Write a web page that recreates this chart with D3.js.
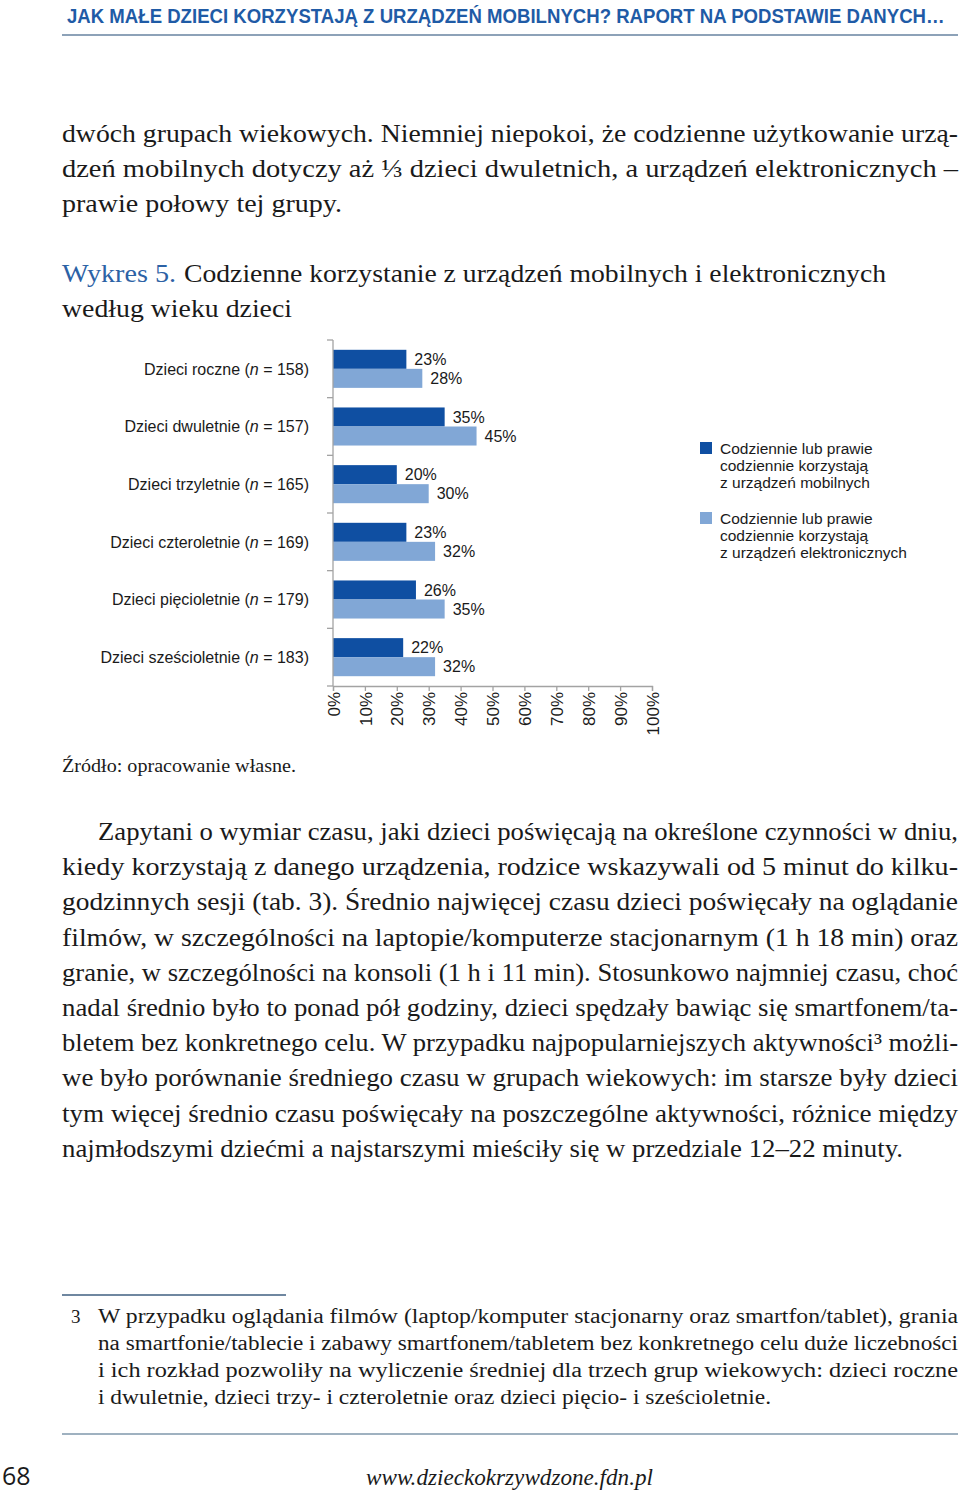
<!DOCTYPE html>
<html>
<head>
<meta charset="utf-8">
<script src="https://cdn.jsdelivr.net/npm/d3@7"></script>
<style>
  html, body { margin: 0; padding: 0; background: #fff; }
  svg { display: block; }
</style>
</head>
<body>
<div id="page"></div>
<script>
// ---------- DATA ----------
const categories = ["Dzieci roczne", "Dzieci dwuletnie", "Dzieci trzyletnie", "Dzieci czteroletnie", "Dzieci pięcioletnie", "Dzieci sześcioletnie"];
const sampleSizes = [158, 157, 165, 169, 179, 183];
const mobileValues = [23, 35, 20, 23, 26, 22];
const electronicValues = [28, 45, 30, 32, 35, 32];
const seriesKeys = ["mobile", "electronic"];
const seriesLegend = [
  ["Codziennie lub prawie", "codziennie korzystają", "z urządzeń mobilnych"],
  ["Codziennie lub prawie", "codziennie korzystają", "z urządzeń elektronicznych"]
];
const xTickValues = [0, 10, 20, 30, 40, 50, 60, 70, 80, 90, 100];

// ---------- TEXT ----------
const headerText = "JAK MAŁE DZIECI KORZYSTAJĄ Z URZĄDZEŃ MOBILNYCH? RAPORT NA PODSTAWIE DANYCH…";
const introLines = [
  "dwóch grupach wiekowych. Niemniej niepokoi, że codzienne użytkowanie urzą-",
  "dzeń mobilnych dotyczy aż ⅓ dzieci dwuletnich, a urządzeń elektronicznych –",
  "prawie połowy tej grupy."
];
const titleLabel = "Wykres 5.";
const titleLines = ["Codzienne korzystanie z urządzeń mobilnych i elektronicznych", "według wieku dzieci"];
const sourceText = "Źródło: opracowanie własne.";
const paragraphLines = [
  "Zapytani o wymiar czasu, jaki dzieci poświęcają na określone czynności w dniu,",
  "kiedy korzystają z danego urządzenia, rodzice wskazywali od 5 minut do kilku-",
  "godzinnych sesji (tab. 3). Średnio najwięcej czasu dzieci poświęcały na oglądanie",
  "filmów, w szczególności na laptopie/komputerze stacjonarnym (1 h 18 min) oraz",
  "granie, w szczególności na konsoli (1 h i 11 min). Stosunkowo najmniej czasu, choć",
  "nadal średnio było to ponad pół godziny, dzieci spędzały bawiąc się smartfonem/ta-",
  "bletem bez konkretnego celu. W przypadku najpopularniejszych aktywności³ możli-",
  "we było porównanie średniego czasu w grupach wiekowych: im starsze były dzieci",
  "tym więcej średnio czasu poświęcały na poszczególne aktywności, różnice między",
  "najmłodszymi dziećmi a najstarszymi mieściły się w przedziale 12–22 minuty."
];
const footnoteNumber = "3";
const footnoteLines = [
  "W przypadku oglądania filmów (laptop/komputer stacjonarny oraz smartfon/tablet), grania",
  "na smartfonie/tablecie i zabawy smartfonem/tabletem bez konkretnego celu duże liczebności",
  "i ich rozkład pozwoliły na wyliczenie średniej dla trzech grup wiekowych: dzieci roczne",
  "i dwuletnie, dzieci trzy- i czteroletnie oraz dzieci pięcio- i sześcioletnie."
];
const pageNumber = "68";
const footerUrl = "www.dzieckokrzywdzone.fdn.pl";

// ---------- SETUP ----------
const W = 960, H = 1494;
const serif = "'Liberation Serif', 'DejaVu Serif', serif";
const sans = "'Liberation Sans', Arial, sans-serif";
const textColor = "#1a1a1a";
const blue = "#1f5ba6";
const darkBar = "#0f4fa2";
const lightBar = "#81a7d6";
const axisColor = "#a3a3a3";

const svg = d3.select("#page").append("svg")
  .attr("width", W).attr("height", H)
  .attr("viewBox", `0 0 ${W} ${H}`);
svg.append("rect").attr("width", W).attr("height", H).attr("fill", "#fff");

// fit a text into a given width by horizontal scaling (keeps real text)
function fitText(sel, x, y, width) {
  const natural = sel.node().getComputedTextLength();
  const sx = natural > 0 ? width / natural : 1;
  sel.attr("x", 0).attr("y", 0)
    .attr("transform", `translate(${x},${y}) scale(${sx},1)`);
  return sel;
}

// Header
fitText(svg.append("text")
  .attr("font-family", "'Liberation Sans Narrow', 'Liberation Sans', Arial, sans-serif")
  .attr("font-weight", "bold").attr("font-size", 21)
  .attr("fill", blue)
  .text(headerText), 67, 23, 878);
svg.append("line").attr("x1", 62).attr("x2", 958).attr("y1", 35).attr("y2", 35)
  .attr("stroke", "#8da2b8").attr("stroke-width", 2);

// helper for justified lines
function textLines(lines, opts) {
  svg.append("g").selectAll("text").data(lines).join("text")
    .attr("x", (d, i) => (opts.xs ? opts.xs[i] : opts.x))
    .attr("y", (d, i) => opts.y0 + i * opts.dy)
    .attr("font-family", opts.family || serif)
    .attr("font-size", opts.size)
    .attr("font-style", opts.style || "normal")
    .attr("fill", opts.fill || textColor)
    .attr("textLength", (d, i) => opts.lengths[i])
    .attr("lengthAdjust", "spacingAndGlyphs")
    .text(d => d);
}

// Intro paragraph
textLines(introLines, { x: 62, y0: 142, dy: 35, size: 25, lengths: [896, 896, 280] });

// Title
svg.append("text").attr("x", 62).attr("y", 282)
  .attr("font-family", serif).attr("font-size", 25).attr("fill", "#2c62a5")
  .attr("textLength", 114).attr("lengthAdjust", "spacingAndGlyphs")
  .text(titleLabel);
svg.append("text").attr("x", 184).attr("y", 282)
  .attr("font-family", serif).attr("font-size", 25).attr("fill", textColor)
  .attr("textLength", 702).attr("lengthAdjust", "spacingAndGlyphs")
  .text(titleLines[0]);
svg.append("text").attr("x", 62).attr("y", 317)
  .attr("font-family", serif).attr("font-size", 25).attr("fill", textColor)
  .attr("textLength", 230).attr("lengthAdjust", "spacingAndGlyphs")
  .text(titleLines[1]);

// ---------- CHART ----------
const data = categories.map((c, i) => ({
  category: c, n: sampleSizes[i], mobile: mobileValues[i], electronic: electronicValues[i]
}));

const x = d3.scaleLinear().domain([0, 100]).range([333, 652]);
const y0 = d3.scaleBand().domain(categories).range([340, 686]).paddingInner(0.34).paddingOuter(0.17);
const y1 = d3.scaleBand().domain(seriesKeys).range([0, y0.bandwidth()]);
const color = d3.scaleOrdinal().domain(seriesKeys).range([darkBar, lightBar]);

const chart = svg.append("g");

// bars
const groups = chart.selectAll("g.cat").data(data).join("g")
  .attr("class", "cat")
  .attr("transform", d => `translate(0,${y0(d.category)})`);

groups.selectAll("rect").data(d => seriesKeys.map(k => ({ key: k, value: d[k] }))).join("rect")
  .attr("x", x(0))
  .attr("y", d => y1(d.key))
  .attr("width", d => x(d.value) - x(0))
  .attr("height", y1.bandwidth())
  .attr("fill", d => color(d.key));

groups.selectAll("text.val").data(d => seriesKeys.map(k => ({ key: k, value: d[k] }))).join("text")
  .attr("class", "val")
  .attr("x", d => x(d.value) + 8)
  .attr("y", d => y1(d.key) + y1.bandwidth() / 2)
  .attr("dy", "0.36em")
  .attr("font-family", sans).attr("font-size", 16).attr("fill", textColor)
  .text(d => d.value + "%");

// category labels
const catLabels = chart.selectAll("text.cat").data(data).join("text")
  .attr("class", "cat")
  .attr("x", 309)
  .attr("y", d => y0(d.category) + y0.bandwidth() / 2)
  .attr("dy", "0.36em")
  .attr("text-anchor", "end")
  .attr("font-family", sans).attr("font-size", 16).attr("fill", textColor);
catLabels.append("tspan").text(d => d.category + " (");
catLabels.append("tspan").attr("font-style", "italic").text("n");
catLabels.append("tspan").text(d => " = " + d.n + ")");

// y axis line + ticks at band boundaries
const yRange = y0.range();
chart.append("line").attr("x1", x(0)).attr("x2", x(0))
  .attr("y1", yRange[0]).attr("y2", yRange[1])
  .attr("stroke", axisColor).attr("stroke-width", 1.3);
const boundaries = d3.range(categories.length + 1).map(i => yRange[0] + i * y0.step());
chart.selectAll("line.ytick").data(boundaries).join("line")
  .attr("class", "ytick")
  .attr("x1", x(0) - 6).attr("x2", x(0))
  .attr("y1", d => d).attr("y2", d => d)
  .attr("stroke", axisColor).attr("stroke-width", 1.3);

// x axis
const xAxisY = yRange[1];
const xAxis = d3.axisBottom(x).tickValues(xTickValues).tickSize(5).tickFormat(d => d + "%");
const xg = chart.append("g").attr("transform", `translate(0,${xAxisY})`).call(xAxis);
xg.select(".domain").attr("stroke", axisColor).attr("stroke-width", 1.3);
xg.selectAll(".tick line").attr("stroke", axisColor).attr("stroke-width", 1.3);
xg.selectAll(".tick text")
  .attr("font-family", sans).attr("font-size", 17).attr("fill", textColor)
  .attr("text-anchor", "end")
  .attr("transform", "rotate(-90)")
  .attr("x", -6).attr("y", 0).attr("dy", "0.36em");

// legend
const legend = chart.append("g");
const legendItems = legend.selectAll("g").data(seriesKeys).join("g")
  .attr("transform", (d, i) => `translate(700,${442 + i * 70})`);
legendItems.append("rect").attr("width", 12).attr("height", 12).attr("fill", d => color(d));
legendItems.each(function (d, i) {
  d3.select(this).selectAll("text").data(seriesLegend[i]).join("text")
    .attr("x", 20).attr("y", (t, j) => 12 + j * 17)
    .attr("font-family", sans).attr("font-size", 15.5).attr("fill", textColor)
    .text(t => t);
});

// source
svg.append("text").attr("x", 62).attr("y", 772)
  .attr("font-family", serif).attr("font-size", 18).attr("fill", textColor)
  .attr("textLength", 234).attr("lengthAdjust", "spacingAndGlyphs")
  .text(sourceText);

// paragraph
textLines(paragraphLines, {
  xs: paragraphLines.map((d, i) => i === 0 ? 98 : 62),
  y0: 840, dy: 35.2, size: 25,
  lengths: paragraphLines.map((d, i) => i === 0 ? 860 : (i === paragraphLines.length - 1 ? 841 : 896))
});

// footnote
svg.append("line").attr("x1", 62).attr("x2", 286).attr("y1", 1295).attr("y2", 1295)
  .attr("stroke", "#3f5f80").attr("stroke-width", 1.3);
svg.append("text").attr("x", 71).attr("y", 1323)
  .attr("font-family", serif).attr("font-size", 19).attr("fill", textColor)
  .text(footnoteNumber);
textLines(footnoteLines, { x: 98, y0: 1323, dy: 27, size: 20, lengths: [860, 860, 860, 673] });

svg.append("line").attr("x1", 62).attr("x2", 958).attr("y1", 1434).attr("y2", 1434)
  .attr("stroke", "#7f97ab").attr("stroke-width", 1.5);

// footer
svg.append("text").attr("x", 2).attr("y", 1485)
  .attr("font-family", "'Open Sans', 'Noto Sans', sans-serif").attr("font-size", 25).attr("fill", textColor)
  .text(pageNumber);
svg.append("text").attr("x", 366).attr("y", 1485)
  .attr("font-family", serif).attr("font-size", 23).attr("font-style", "italic").attr("fill", textColor)
  .attr("textLength", 287).attr("lengthAdjust", "spacingAndGlyphs")
  .text(footerUrl);
</script>
</body>
</html>
